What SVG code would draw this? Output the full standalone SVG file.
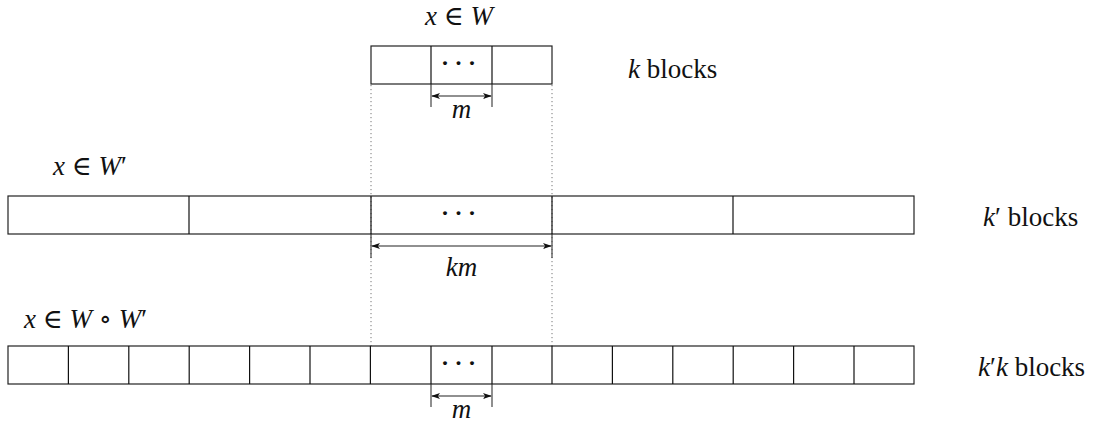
<svg xmlns="http://www.w3.org/2000/svg" width="1107" height="422" viewBox="0 0 1107 422">
<style>
.box{fill:none;stroke:#222;stroke-width:1.2}
.div{stroke:#111;stroke-width:1.2}
.tick{stroke:#333;stroke-width:1.1}
.dot{stroke:#777;stroke-width:1;stroke-dasharray:1.2 2.8}
.arr{stroke:#222;stroke-width:1.1;marker-start:url(#ah);marker-end:url(#ah)}
.i{font-style:italic}
.dots{font-weight:bold;font-size:24px}
</style>
<defs>
<marker id="ah" viewBox="0 0 10 10" refX="9" refY="5" markerWidth="9" markerHeight="9" markerUnits="userSpaceOnUse" orient="auto-start-reverse">
<path d="M0,1.5 L10,5 L0,8.5 L2.5,5 Z" fill="#111"/>
</marker>
</defs>
<g id="connectors">
<line class="dot" x1="371" y1="85" x2="371" y2="346"/>
<line class="dot" x1="552" y1="85" x2="552" y2="346"/>
<line class="tick" x1="431" y1="84" x2="431" y2="107"/>
<line class="tick" x1="492" y1="84" x2="492" y2="107"/>
<line class="arr" x1="432" y1="96" x2="491" y2="96"/>
<line class="tick" x1="371" y1="234" x2="371" y2="258"/>
<line class="tick" x1="552" y1="234" x2="552" y2="258"/>
<line class="arr" x1="372" y1="246" x2="551" y2="246"/>
<line class="tick" x1="431" y1="384" x2="431" y2="407"/>
<line class="tick" x1="492" y1="384" x2="492" y2="407"/>
<line class="arr" x1="432" y1="396" x2="491" y2="396"/>
</g>
<g font-family="Liberation Serif, DejaVu Serif, serif" font-size="27" fill="#111">
<g id="row-W">
<rect class="box" x="371" y="46" width="181" height="38"/>
<line class="div" x1="431" y1="46" x2="431" y2="84"/>
<line class="div" x1="492" y1="46" x2="492" y2="84"/>
<text class="dots" x="445 458.5 472" y="71" text-anchor="middle">···</text>
<text x="459" y="25" text-anchor="middle"><tspan class="i">x</tspan> ∈ <tspan class="i">W</tspan></text>
<text x="628" y="78"><tspan class="i">k</tspan> blocks</text>
<text class="i" x="461.5" y="118" text-anchor="middle">m</text>
</g>
<g id="row-Wp">
<rect class="box" x="8" y="196" width="906" height="38"/>
<line class="div" x1="189" y1="196" x2="189" y2="234"/>
<line class="div" x1="371" y1="196" x2="371" y2="234"/>
<line class="div" x1="552" y1="196" x2="552" y2="234"/>
<line class="div" x1="733" y1="196" x2="733" y2="234"/>
<text class="dots" x="445 458.5 472" y="221" text-anchor="middle">···</text>
<text x="53" y="175"><tspan class="i">x</tspan> ∈ <tspan class="i">W</tspan>′</text>
<text x="983" y="226"><tspan class="i">k</tspan>′ blocks</text>
<text class="i" x="461.5" y="276" text-anchor="middle">km</text>
</g>
<g id="row-WWp">
<rect class="box" x="8" y="346" width="906" height="38"/>
<line class="div" x1="68.4" y1="346" x2="68.4" y2="384"/>
<line class="div" x1="128.8" y1="346" x2="128.8" y2="384"/>
<line class="div" x1="189.2" y1="346" x2="189.2" y2="384"/>
<line class="div" x1="249.6" y1="346" x2="249.6" y2="384"/>
<line class="div" x1="310" y1="346" x2="310" y2="384"/>
<line class="div" x1="370.4" y1="346" x2="370.4" y2="384"/>
<line class="div" x1="431" y1="346" x2="431" y2="384"/>
<line class="div" x1="492" y1="346" x2="492" y2="384"/>
<line class="div" x1="552" y1="346" x2="552" y2="384"/>
<line class="div" x1="612.4" y1="346" x2="612.4" y2="384"/>
<line class="div" x1="672.8" y1="346" x2="672.8" y2="384"/>
<line class="div" x1="733.2" y1="346" x2="733.2" y2="384"/>
<line class="div" x1="793.6" y1="346" x2="793.6" y2="384"/>
<line class="div" x1="854" y1="346" x2="854" y2="384"/>
<text class="dots" x="445 458.5 472" y="371" text-anchor="middle">···</text>
<text x="24" y="328"><tspan class="i">x</tspan> ∈ <tspan class="i">W</tspan> ∘ <tspan class="i">W</tspan>′</text>
<text x="978" y="376"><tspan class="i">k</tspan>′<tspan class="i">k</tspan> blocks</text>
<text class="i" x="461.5" y="418" text-anchor="middle">m</text>
</g>
</g>
</svg>
